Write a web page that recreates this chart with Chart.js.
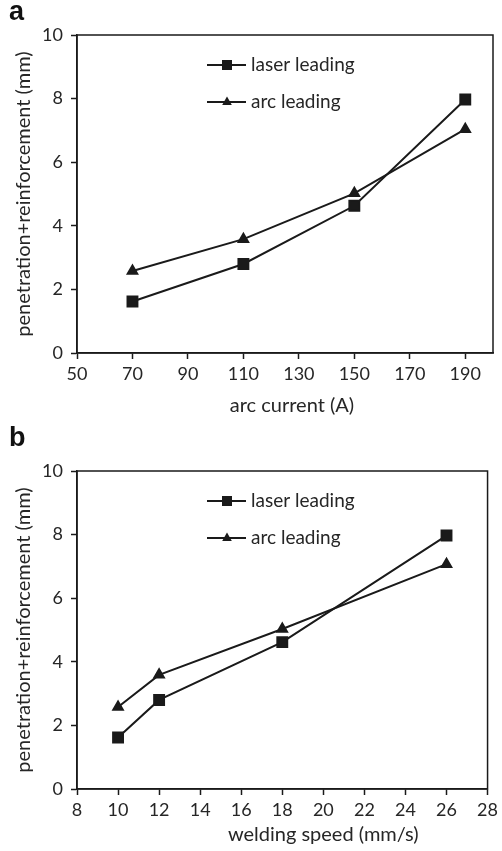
<!DOCTYPE html>
<html>
<head>
<meta charset="utf-8">
<script src="https://cdn.jsdelivr.net/npm/chart.js@4/dist/chart.umd.min.js"></script>
<style>
  body { margin:0; background:#fff; }
  .wrap { position:relative; width:502px; height:851px; }
  canvas { position:absolute; left:0; }
  .panel { position:absolute; left:9px; font:bold 27px "Liberation Sans", Arial, sans-serif; color:#111; }
</style>
</head>
<body>
<div class="wrap">
  <canvas id="chartA" width="502" height="420" style="top:0"></canvas>
  <canvas id="chartB" width="502" height="431" style="top:420px"></canvas>
  <div class="panel" style="top:-4px">a</div>
  <div class="panel" style="top:422px">b</div>
</div>
<script>
// panel a: arc current
const arcCurrent = [70, 110, 150, 190];
const laserLeadA = [1.62, 2.8, 4.63, 7.97];
const arcLeadA = [2.58, 3.58, 5.02, 7.04];
const xTicksA = [50, 70, 90, 110, 130, 150, 170, 190];

// panel b: welding speed
const weldSpeed = [10, 12, 18, 26];
const laserLeadB = [1.62, 2.8, 4.62, 7.97];
const arcLeadB = [2.58, 3.59, 5.03, 7.07];
const xTicksB = [8, 10, 12, 14, 16, 18, 20, 22, 24, 26, 28];

const yTicks = [0, 2, 4, 6, 8, 10];
const seriesNames = ['laser leading', 'arc leading'];

const ink = '#1a1a1a';
const textCol = '#262626';
const fontFam = 'Lato, "Open Sans", sans-serif';

function pts(xs, ys) {
    return xs.map((x, i) => ({x: x, y: ys[i]}));
}

// frame round the plot area
const frame = {
    id: 'frame',
    afterDraw(chart) {
        const a = chart.chartArea, ctx = chart.ctx;
        ctx.save();
        ctx.strokeStyle = ink;
        ctx.lineWidth = 1.5;
        ctx.strokeRect(a.left, a.top, a.right - a.left, a.bottom - a.top);
        ctx.restore();
    }
};

// legend inside the plot + x title
const extras = {
    id: 'extras',
    afterDraw(chart, args, opts) {
        const a = chart.chartArea, ctx = chart.ctx;
        ctx.save();
        ctx.fillStyle = ink;
        ctx.strokeStyle = ink;
        ctx.textBaseline = 'middle';
        chart.data.datasets.forEach((ds, i) => {
            let x0 = a.left + 130, y = a.top + 30 + i * 37;
            ctx.lineWidth = 2;
            ctx.beginPath();
            ctx.moveTo(x0, y); ctx.lineTo(x0 + 39, y);
            ctx.stroke();
            let cx = x0 + 20;
            ctx.beginPath();
            if (ds.pointStyle === 'rect') {
                ctx.rect(cx - 5, y - 5, 10, 10);
            } else {
                ctx.moveTo(cx, y - 5.5); ctx.lineTo(cx + 4.8, y + 3); ctx.lineTo(cx - 4.8, y + 3); ctx.closePath();
            }
            ctx.fill();
            ctx.fillStyle = textCol;
            ctx.font = opts.legendFont;
            ctx.fillText(ds.label, x0 + 44, y);
            ctx.fillStyle = ink;
        });
        ctx.fillStyle = textCol;
        ctx.font = opts.titleFont;
        ctx.textAlign = 'center';
        ctx.fillText(opts.xTitle, (a.left + a.right) / 2 + opts.dx, opts.titleY);
        ctx.restore();
    }
};

function makeChart(el, xs, laser, arc, xMin, xMax, xTicks, pad, xHeight, xTitle, dx, titleY) {
    return new Chart(document.getElementById(el), {
        type: 'line',
        data: {
            datasets: [{
                label: seriesNames[0],
                data: pts(xs, laser),
                borderColor: ink, backgroundColor: ink, borderWidth: 2,
                pointStyle: 'rect', pointRadius: 7, pointHoverRadius: 7
            }, {
                label: seriesNames[1],
                data: pts(xs, arc),
                borderColor: ink, backgroundColor: ink, borderWidth: 2,
                pointStyle: 'triangle', pointRadius: 5.5, pointHoverRadius: 5.5
            }]
        },
        options: {
            responsive: false,
            animation: false,
            layout: {padding: pad},
            plugins: {
                legend: {display: false},
                tooltip: {enabled: false},
                extras: {legendFont: '19px ' + fontFam, titleFont: '20px ' + fontFam, xTitle: xTitle, dx: dx, titleY: titleY}
            },
            scales: {
                x: {
                    type: 'linear', min: xMin, max: xMax,
                    afterBuildTicks: s => { s.ticks = xTicks.map(v => ({value: v})); },
                    afterFit: s => { s.height = xHeight; },
                    border: {color: ink, width: 1.5},
                    grid: {drawOnChartArea: false, tickLength: 6, tickColor: ink, tickWidth: 1.5},
                    ticks: {color: textCol, font: {size: 18, family: fontFam}, padding: 4, maxRotation: 0, autoSkip: false}
                },
                y: {
                    min: 0, max: 10,
                    afterBuildTicks: s => { s.ticks = yTicks.map(v => ({value: v})); },
                    afterFit: s => { s.width = 77; },
                    border: {color: ink, width: 1.5},
                    grid: {drawOnChartArea: false, tickLength: 6, tickColor: ink, tickWidth: 1.5},
                    ticks: {color: textCol, font: {size: 18, family: fontFam}, padding: 8},
                    title: {display: true, text: 'penetration+reinforcement (mm)', color: textCol,
                        font: {size: 20, family: fontFam}, padding: {top: 12, bottom: 0}}
                }
            }
        },
        plugins: [frame, extras]
    });
}

makeChart('chartA', arcCurrent, laserLeadA, arcLeadA, 50, 200, xTicksA,
    {left: 0, top: 35, right: 9, bottom: 0}, 67, 'arc current (A)', 7, 406);
makeChart('chartB', weldSpeed, laserLeadB, arcLeadB, 8, 28, xTicksB,
    {left: 0, top: 51, right: 10, bottom: 0}, 62, 'welding speed (mm/s)', 41, 415);
</script>
</body>
</html>
